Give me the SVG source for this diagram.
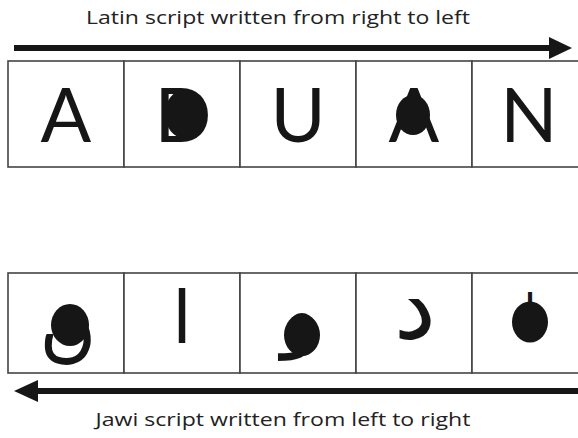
<svg xmlns="http://www.w3.org/2000/svg" width="578" height="438" viewBox="0 0 578 438">
<style>
.cap{font-family:"Open Sans","Liberation Sans",sans-serif;font-size:19px;fill:#222;text-anchor:middle}
.lat{font-family:Lato,"DejaVu Sans",sans-serif;font-size:75px;fill:#161616;text-anchor:middle}
.ar{font-family:"DejaVu Sans",sans-serif;fill:#161616;text-anchor:middle}
.cell{fill:#fff;stroke:#444;stroke-width:1.6}
.blob{fill:#161616}
.arrow{stroke:#161616;stroke-width:6;fill:none}
.head{fill:#161616}
</style>
<rect width="578" height="438" fill="#fff"/>
<text class="cap" x="278" y="24" textLength="384" lengthAdjust="spacingAndGlyphs">Latin script written from right to left</text>
<text class="cap" x="283" y="426" textLength="375" lengthAdjust="spacingAndGlyphs">Jawi script written from left to right</text>
<g id="connectors">
<line class="arrow" x1="14" y1="48" x2="552" y2="48"/>
<polygon class="head" points="549,37 572,48 549,59"/>
<line class="arrow" x1="578" y1="391" x2="36" y2="391"/>
<polygon class="head" points="38,380 14,391 38,402"/>
</g>
<g id="latin-A"><rect class="cell" x="8" y="61" width="116" height="106"/><text class="lat" x="66" y="142">A</text></g>
<g id="latin-D"><rect class="cell" x="124" y="61" width="116" height="106"/><text class="lat" x="183" y="142">D</text><ellipse class="blob" cx="184" cy="114" rx="19" ry="24"/></g>
<g id="latin-U"><rect class="cell" x="240" y="61" width="116" height="106"/><text class="lat" x="298" y="142">U</text></g>
<g id="latin-A2"><rect class="cell" x="356" y="61" width="116" height="106"/><text class="lat" x="414" y="142">A</text><ellipse class="blob" cx="413" cy="115" rx="17" ry="20"/></g>
<g id="latin-N"><rect class="cell" x="472" y="61" width="116" height="106"/><text class="lat" x="529" y="142">N</text></g>
<g id="jawi-nun"><rect class="cell" x="8" y="273" width="116" height="100"/><text class="ar" x="68" y="352" font-size="78">ں</text><ellipse class="blob" cx="70" cy="325" rx="19" ry="21"/></g>
<g id="jawi-alif"><rect class="cell" x="124" y="273" width="116" height="100"/><text class="ar" x="182" y="343" font-size="72">ا</text></g>
<g id="jawi-waw"><rect class="cell" x="240" y="273" width="116" height="100"/><text class="ar" x="302" y="340" font-size="85">و</text><ellipse class="blob" cx="302" cy="335" rx="18" ry="21"/></g>
<g id="jawi-dal"><rect class="cell" x="356" y="273" width="116" height="100"/><text class="ar" x="415" y="338" font-size="95">د</text></g>
<g id="jawi-alif2"><rect class="cell" x="472" y="273" width="116" height="100"/><text class="ar" x="530" y="326" font-size="45">ا</text><ellipse class="blob" cx="530" cy="322" rx="18" ry="20.5"/></g>
</svg>
